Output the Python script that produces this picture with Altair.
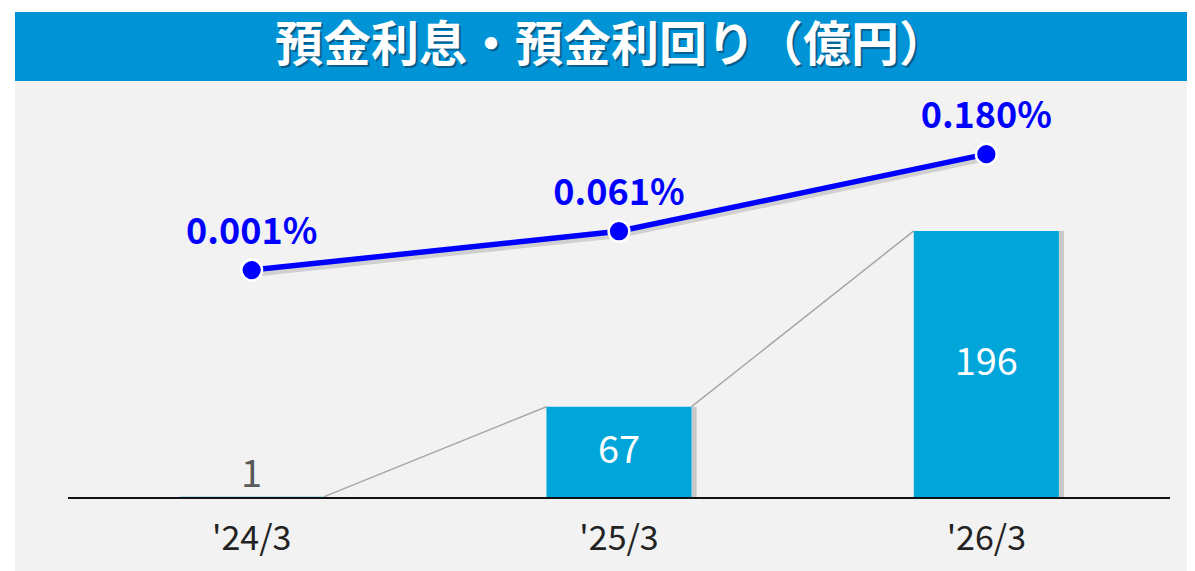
import altair as alt
import pandas as pd

# ---- data ----
categories = ["'24/3", "'25/3", "'26/3"]
interest = [1, 67, 196]                 # 預金利息（億円）
rates = [0.001, 0.061, 0.180]           # 預金利回り（%）
rate_labels = ["0.001%", "0.061%", "0.180%"]
title_text = "預金利息・預金利回り（億円）"

idx = list(range(len(categories)))
df = pd.DataFrame({
    "cat": categories,
    "idx": idx,
    "interest": interest,
    "rate": rates,
    "rate_label": rate_labels,
})
HW = 0.1975  # half bar width in category units
seg = pd.DataFrame({
    "xa": [i + HW for i in idx[:-1]],
    "xb": [i + 1 - HW for i in idx[:-1]],
    "ya": interest[:-1],
    "yb": interest[1:],
})
one = pd.DataFrame({"a": [0]})

W, H = 1102, 417
FONT = "Noto Sans CJK JP"
BAR = "#00A6D9"
BLUE = "#0000FF"

xscale = alt.Scale(domain=[-0.5, 2.5], nice=False, zero=False)
yscale = alt.Scale(domain=[0, 306], nice=False, zero=False)
rscale = alt.Scale(domain=[-0.351, 0.293], nice=False, zero=False)
# same scale shifted down a few pixels, for the soft shadow under the line
rshadow = alt.Scale(domain=[-0.351 + 0.006, 0.293 + 0.006], nice=False, zero=False)
xaxis = alt.Axis(labels=False, ticks=False, grid=False, title=None, domain=False)

bg = alt.Chart(one).mark_rect(color="#F2F2F2").encode(
    x=alt.value(-53), x2=alt.value(1127), y=alt.value(0), y2=alt.value(H + 80))
head = alt.Chart(one).mark_rect(color="#0093D6").encode(
    x=alt.value(-53), x2=alt.value(1122), y=alt.value(-69), y2=alt.value(0))
head_shadow = alt.Chart(one).mark_text(
    text=title_text, font=FONT, fontSize=48, fontWeight="bold",
    color="#0b3550", opacity=0.55, align="center", baseline="middle", dx=2, dy=2
).encode(x=alt.value(543), y=alt.value(-34))
head_text = alt.Chart(one).mark_text(
    text=title_text, font=FONT, fontSize=48, fontWeight="bold",
    color="white", align="center", baseline="middle"
).encode(x=alt.value(543), y=alt.value(-34))

connectors = alt.Chart(seg).mark_rule(color="#A6A6A6", strokeWidth=1.5).encode(
    x=alt.X("xa:Q", scale=xscale, axis=xaxis),
    x2="xb:Q",
    y=alt.Y("ya:Q", scale=yscale, axis=None),
    y2="yb:Q",
)

bar_shadow = alt.Chart(df).transform_calculate(
    xl=f"datum.idx + {HW}", xr=f"datum.idx + {HW} + 0.014"
).mark_rect(color="#7f7f7f", opacity=0.35).encode(
    x=alt.X("xl:Q", scale=xscale, axis=xaxis),
    x2="xr:Q",
    y=alt.Y("interest:Q", scale=yscale, axis=None),
    y2=alt.datum(0),
)

bars = alt.Chart(df).transform_calculate(
    xl=f"datum.idx - {HW}", xr=f"datum.idx + {HW}"
).mark_rect(color=BAR).encode(
    x=alt.X("xl:Q", scale=xscale, axis=xaxis),
    x2="xr:Q",
    y=alt.Y("interest:Q", scale=yscale, axis=None),
    y2=alt.datum(0),
)

baseline = alt.Chart(one).mark_rule(color="#111111", strokeWidth=2).encode(
    x=alt.value(0), x2=alt.value(W),
    y=alt.Y("a:Q", scale=yscale, axis=None),
)

inside = alt.Chart(df).transform_filter("datum.interest >= 20").transform_calculate(
    mid="datum.interest / 2"
).mark_text(color="white", font=FONT, fontSize=38, baseline="middle").encode(
    x=alt.X("idx:Q", scale=xscale, axis=xaxis),
    y=alt.Y("mid:Q", scale=yscale, axis=None),
    text="interest:Q",
)
outside = alt.Chart(df).transform_filter("datum.interest < 20").mark_text(
    color="#595959", font=FONT, fontSize=38, baseline="bottom", dy=-2
).encode(
    x=alt.X("idx:Q", scale=xscale, axis=xaxis),
    y=alt.Y("interest:Q", scale=yscale, axis=None),
    text="interest:Q",
)

cat_labels = alt.Chart(df).mark_text(
    color="#222222", font=FONT, fontSize=34, baseline="middle"
).encode(
    x=alt.X("idx:Q", scale=xscale, axis=xaxis),
    y=alt.value(H + 42),
    text="cat:N",
)

line_shadow = alt.Chart(df).mark_line(color="#808080", strokeWidth=6, opacity=0.3).encode(
    x=alt.X("idx:Q", scale=xscale, axis=xaxis),
    y=alt.Y("rate:Q", scale=rshadow, axis=None),
)
line = alt.Chart(df).mark_line(color=BLUE, strokeWidth=5.5).encode(
    x=alt.X("idx:Q", scale=xscale, axis=xaxis),
    y=alt.Y("rate:Q", scale=rscale, axis=None),
)
points = alt.Chart(df).mark_point(
    filled=True, fill=BLUE, stroke="white", strokeWidth=2.5, size=430, opacity=1
).encode(
    x=alt.X("idx:Q", scale=xscale, axis=xaxis),
    y=alt.Y("rate:Q", scale=rscale, axis=None),
)
rate_text = alt.Chart(df).mark_text(
    color=BLUE, font=FONT, fontSize=36, fontWeight="bold", baseline="middle", dy=-37
).encode(
    x=alt.X("idx:Q", scale=xscale, axis=xaxis),
    y=alt.Y("rate:Q", scale=rscale, axis=None),
    text="rate_label:N",
)

chart = alt.layer(
    bg, head, head_shadow, head_text,
    connectors, bar_shadow, bars, baseline, inside, outside, cat_labels,
    line_shadow, line, points, rate_text,
).resolve_scale(y="independent").properties(
    width=W, height=H,
    padding={"left": 60, "top": 73, "right": 17, "bottom": 73},
    autosize=alt.AutoSizeParams(type="none"),
    background="white",
).configure_view(stroke=None).configure(font=FONT)

chart.save("out.html", embed_options={"renderer": "svg", "actions": False})
